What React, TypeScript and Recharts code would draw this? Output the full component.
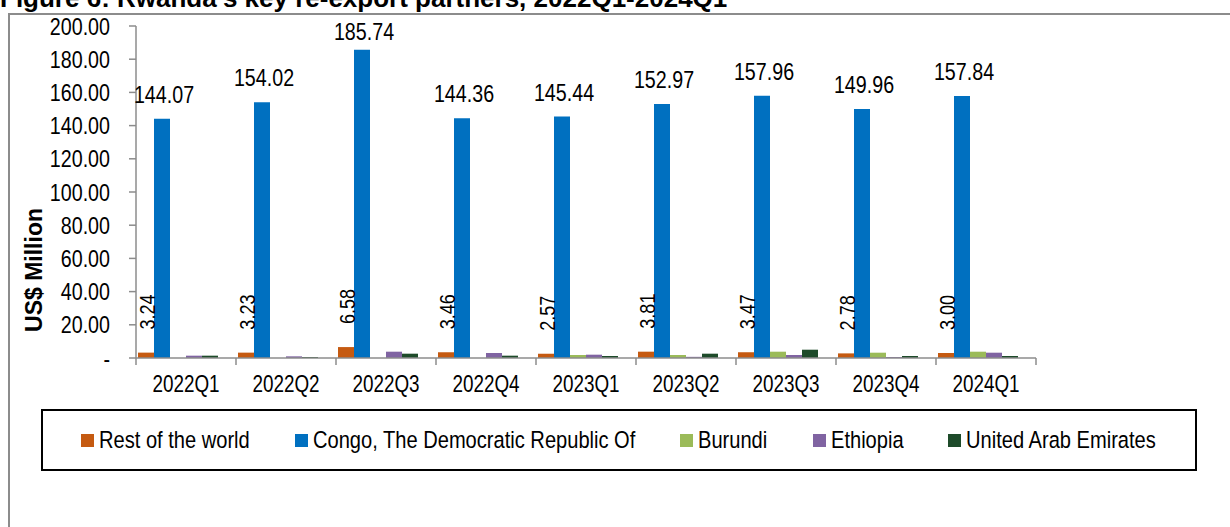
import { Bar, BarChart, LabelList, Legend, XAxis, YAxis } from "recharts";

const quarters = ["2022Q1", "2022Q2", "2022Q3", "2022Q4", "2023Q1", "2023Q2", "2023Q3", "2023Q4", "2024Q1"];
const restOfWorld = [3.24, 3.23, 6.58, 3.46, 2.57, 3.81, 3.47, 2.78, 3.0];
const congo = [144.07, 154.02, 185.74, 144.36, 145.44, 152.97, 157.96, 149.96, 157.84];
const burundi = [0, 0, 0, 0, 1.8, 1.8, 3.8, 3.2, 3.8];
const ethiopia = [1.4, 1.0, 3.8, 3.0, 2.0, 0.7, 1.8, 0.6, 3.2];
const uae = [1.4, 0.6, 2.6, 1.4, 1.2, 2.6, 5.0, 1.2, 1.2];
const yTicks = [0, 20, 40, 60, 80, 100, 120, 140, 160, 180, 200];

const seriesNames = ["Rest of the world", "Congo, The Democratic Republic Of", "Burundi", "Ethiopia", "United Arab Emirates"];
const seriesColors = ["#C55A11", "#0070C0", "#9BBB59", "#8064A2", "#1E4B2A"];

const data = quarters.map((q, i) => ({
  quarter: q,
  rest: restOfWorld[i],
  congo: congo[i],
  burundi: burundi[i],
  ethiopia: ethiopia[i],
  uae: uae[i],
}));

// no Arial Narrow here, so squeeze Liberation Sans horizontally
const sans = '"Liberation Sans", Arial, sans-serif';
const squeeze = 0.82;
const axisGrey = "#8c8c8c";
const shift = 8; // excel draws the bar groups a little left of the category centre

function NarrowText({ x, y, size, anchor = "start", rotate = false, dy, children }: any) {
  return (
    <text
      transform={`translate(${x},${y})${rotate ? " rotate(-90)" : ""} scale(${squeeze},1)`}
      textAnchor={anchor}
      dy={dy}
      fontFamily={sans}
      fontSize={size}
      fill="#000"
    >
      {children}
    </text>
  );
}

function XTick(props: any) {
  const { x, y, payload, index, width, visibleTicksCount } = props;
  const band = width / visibleTicksCount;
  const cx = x + shift;
  return (
    <g>
      <line x1={cx - band / 2} y1={y} x2={cx - band / 2} y2={y + 7} stroke={axisGrey} strokeWidth={1.5} />
      {index === visibleTicksCount - 1 && (
        <line x1={cx + band / 2} y1={y} x2={cx + band / 2} y2={y + 7} stroke={axisGrey} strokeWidth={1.5} />
      )}
      <NarrowText x={cx} y={y + 34} size={23} anchor="middle">
        {payload.value}
      </NarrowText>
    </g>
  );
}

function YTick(props: any) {
  const { x, y, payload } = props;
  const v = payload.value as number;
  return (
    <NarrowText x={x} y={y} size={24} anchor="end" dy="0.355em">
      {v === 0 ? "-" : v.toFixed(2)}
    </NarrowText>
  );
}

function CongoLabel(props: any) {
  const { x, y, width, value } = props;
  const ty = Math.max(y - 16, 40);
  return (
    <NarrowText x={x + width / 2 + 2} y={ty} size={24} anchor="middle">
      {Number(value).toFixed(2)}
    </NarrowText>
  );
}

function RestLabel(props: any) {
  const { x, y, width, value } = props;
  return (
    <NarrowText x={x + width / 2 + 9} y={y - 23} size={22} rotate>
      {Number(value).toFixed(2)}
    </NarrowText>
  );
}

let measureCtx: CanvasRenderingContext2D | null = null;
function textWidth(text: string, size: number) {
  if (!measureCtx) measureCtx = document.createElement("canvas").getContext("2d");
  if (!measureCtx) return text.length * size * 0.5;
  measureCtx.font = `${size}px ${sans}`;
  return measureCtx.measureText(text).width;
}

function LegendBox() {
  const size = 24.5;
  return (
    <div
      style={{
        width: "100%",
        height: "100%",
        boxSizing: "border-box",
        border: "2px solid #000",
        display: "flex",
        alignItems: "center",
        justifyContent: "center",
        fontFamily: sans,
        fontSize: size,
        color: "#000",
        whiteSpace: "nowrap",
      }}
    >
      {seriesNames.map((name, i) => (
        <span key={name} style={{ display: "flex", alignItems: "center", marginLeft: i ? 45 : 0 }}>
          <span style={{ width: 13, height: 13, background: seriesColors[i], marginRight: 5, flex: "none" }} />
          <span style={{ display: "inline-block", width: textWidth(name, size) * squeeze, lineHeight: "28px" }}>
            <span style={{ display: "inline-block", transform: `scaleX(${squeeze})`, transformOrigin: "left center" }}>
              {name}
            </span>
          </span>
        </span>
      ))}
    </div>
  );
}

export default function App() {
  return (
    <div style={{ position: "absolute", left: 0, top: 0, width: 1230, height: 527, overflow: "hidden", background: "#fff" }}>
      <div
        style={{
          position: "absolute",
          left: 0,
          top: -15,
          fontFamily: sans,
          fontWeight: "bold",
          fontSize: 26,
          lineHeight: "26px",
          whiteSpace: "nowrap",
        }}
      >
        Figure 6: Rwanda's key re-export partners, 2022Q1-2024Q1
      </div>
      <div
        style={{
          position: "absolute",
          left: 8,
          top: 13,
          width: 1400,
          height: 700,
          border: `2px solid ${axisGrey}`,
        }}
      />
      <div style={{ position: "absolute", left: 0, top: 0 }}>
        <BarChart
          width={1230}
          height={527}
          data={data}
          margin={{ top: 26, right: 194, bottom: 129, left: 36 }}
          barCategoryGap="10%"
          barGap={0}
        >
          <XAxis
            dataKey="quarter"
            height={40}
            padding={{ left: -shift, right: shift }}
            axisLine={{ stroke: axisGrey, strokeWidth: 1.5 }}
            tickLine={false}
            tickSize={0}
            tickMargin={0}
            interval={0}
            tick={<XTick />}
          />
          <YAxis
            width={100}
            domain={[0, 200]}
            ticks={yTicks}
            interval={0}
            tick={<YTick />}
            tickSize={7}
            tickMargin={19}
            axisLine={{ stroke: axisGrey, strokeWidth: 1.5 }}
            tickLine={{ stroke: axisGrey, strokeWidth: 1.5 }}
            label={() => (
              <text
                x={34}
                y={270}
                transform="rotate(-90 34 270)"
                textAnchor="middle"
                dominantBaseline="central"
                fontFamily={sans}
                fontWeight="bold"
                fontSize={23}
                fill="#000"
              >
                US$ Million
              </text>
            )}
          />
          <Legend
            layout="horizontal"
            verticalAlign="middle"
            align="center"
            content={<LegendBox />}
            wrapperStyle={{ position: "absolute", left: 41, top: 409, width: 1156, height: 62 }}
          />
          <Bar dataKey="rest" name={seriesNames[0]} fill={seriesColors[0]} isAnimationActive={false}>
            <LabelList dataKey="rest" content={<RestLabel />} />
          </Bar>
          <Bar dataKey="congo" name={seriesNames[1]} fill={seriesColors[1]} isAnimationActive={false}>
            <LabelList dataKey="congo" content={<CongoLabel />} />
          </Bar>
          <Bar dataKey="burundi" name={seriesNames[2]} fill={seriesColors[2]} isAnimationActive={false} />
          <Bar dataKey="ethiopia" name={seriesNames[3]} fill={seriesColors[3]} isAnimationActive={false} />
          <Bar dataKey="uae" name={seriesNames[4]} fill={seriesColors[4]} isAnimationActive={false} />
        </BarChart>
      </div>
    </div>
  );
}
